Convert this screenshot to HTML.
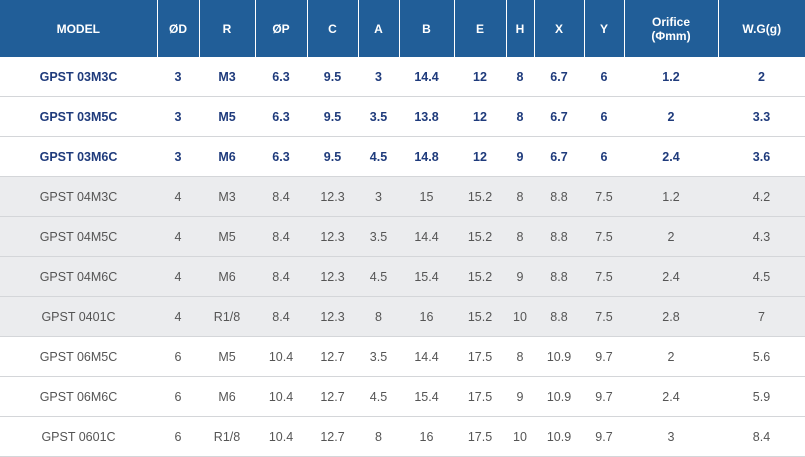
<!DOCTYPE html>
<html><head><meta charset="utf-8"><style>
html,body{margin:0;padding:0;background:#fff;}
body{width:805px;height:454px;overflow:hidden;font-family:"Liberation Sans",sans-serif;}
table{border-collapse:collapse;table-layout:fixed;width:805px;}
th{background:#215e98;color:#fff;font-weight:bold;font-size:12px;height:57px;padding:0;border-left:1px solid #fff;text-align:center;line-height:14px;}
th:first-child{border-left:none;}
td{height:39px;padding:0;text-align:center;font-size:12.5px;border-bottom:1px solid #d4d6d9;color:#555;}
tr.b td{color:#1f3b7c;font-weight:bold;background:#fff;}
tr.g td{background:#ebecee;}
tr.w td{background:#fff;}
</style></head><body>
<table>
<colgroup><col style="width:157px"><col style="width:42px"><col style="width:56px"><col style="width:52px"><col style="width:51px"><col style="width:41px"><col style="width:55px"><col style="width:52px"><col style="width:28px"><col style="width:50px"><col style="width:40px"><col style="width:94px"><col style="width:87px"></colgroup>
<tr><th>MODEL</th><th>ØD</th><th>R</th><th>ØP</th><th>C</th><th>A</th><th>B</th><th>E</th><th>H</th><th>X</th><th>Y</th><th>Orifice<br>(Φmm)</th><th>W.G(g)</th></tr>
<tr class="b"><td>GPST 03M3C</td><td>3</td><td>M3</td><td>6.3</td><td>9.5</td><td>3</td><td>14.4</td><td>12</td><td>8</td><td>6.7</td><td>6</td><td>1.2</td><td>2</td></tr>
<tr class="b"><td>GPST 03M5C</td><td>3</td><td>M5</td><td>6.3</td><td>9.5</td><td>3.5</td><td>13.8</td><td>12</td><td>8</td><td>6.7</td><td>6</td><td>2</td><td>3.3</td></tr>
<tr class="b"><td>GPST 03M6C</td><td>3</td><td>M6</td><td>6.3</td><td>9.5</td><td>4.5</td><td>14.8</td><td>12</td><td>9</td><td>6.7</td><td>6</td><td>2.4</td><td>3.6</td></tr>
<tr class="g"><td>GPST 04M3C</td><td>4</td><td>M3</td><td>8.4</td><td>12.3</td><td>3</td><td>15</td><td>15.2</td><td>8</td><td>8.8</td><td>7.5</td><td>1.2</td><td>4.2</td></tr>
<tr class="g"><td>GPST 04M5C</td><td>4</td><td>M5</td><td>8.4</td><td>12.3</td><td>3.5</td><td>14.4</td><td>15.2</td><td>8</td><td>8.8</td><td>7.5</td><td>2</td><td>4.3</td></tr>
<tr class="g"><td>GPST 04M6C</td><td>4</td><td>M6</td><td>8.4</td><td>12.3</td><td>4.5</td><td>15.4</td><td>15.2</td><td>9</td><td>8.8</td><td>7.5</td><td>2.4</td><td>4.5</td></tr>
<tr class="g"><td>GPST 0401C</td><td>4</td><td>R1/8</td><td>8.4</td><td>12.3</td><td>8</td><td>16</td><td>15.2</td><td>10</td><td>8.8</td><td>7.5</td><td>2.8</td><td>7</td></tr>
<tr class="w"><td>GPST 06M5C</td><td>6</td><td>M5</td><td>10.4</td><td>12.7</td><td>3.5</td><td>14.4</td><td>17.5</td><td>8</td><td>10.9</td><td>9.7</td><td>2</td><td>5.6</td></tr>
<tr class="w"><td>GPST 06M6C</td><td>6</td><td>M6</td><td>10.4</td><td>12.7</td><td>4.5</td><td>15.4</td><td>17.5</td><td>9</td><td>10.9</td><td>9.7</td><td>2.4</td><td>5.9</td></tr>
<tr class="w"><td>GPST 0601C</td><td>6</td><td>R1/8</td><td>10.4</td><td>12.7</td><td>8</td><td>16</td><td>17.5</td><td>10</td><td>10.9</td><td>9.7</td><td>3</td><td>8.4</td></tr>
</table>
</body></html>
